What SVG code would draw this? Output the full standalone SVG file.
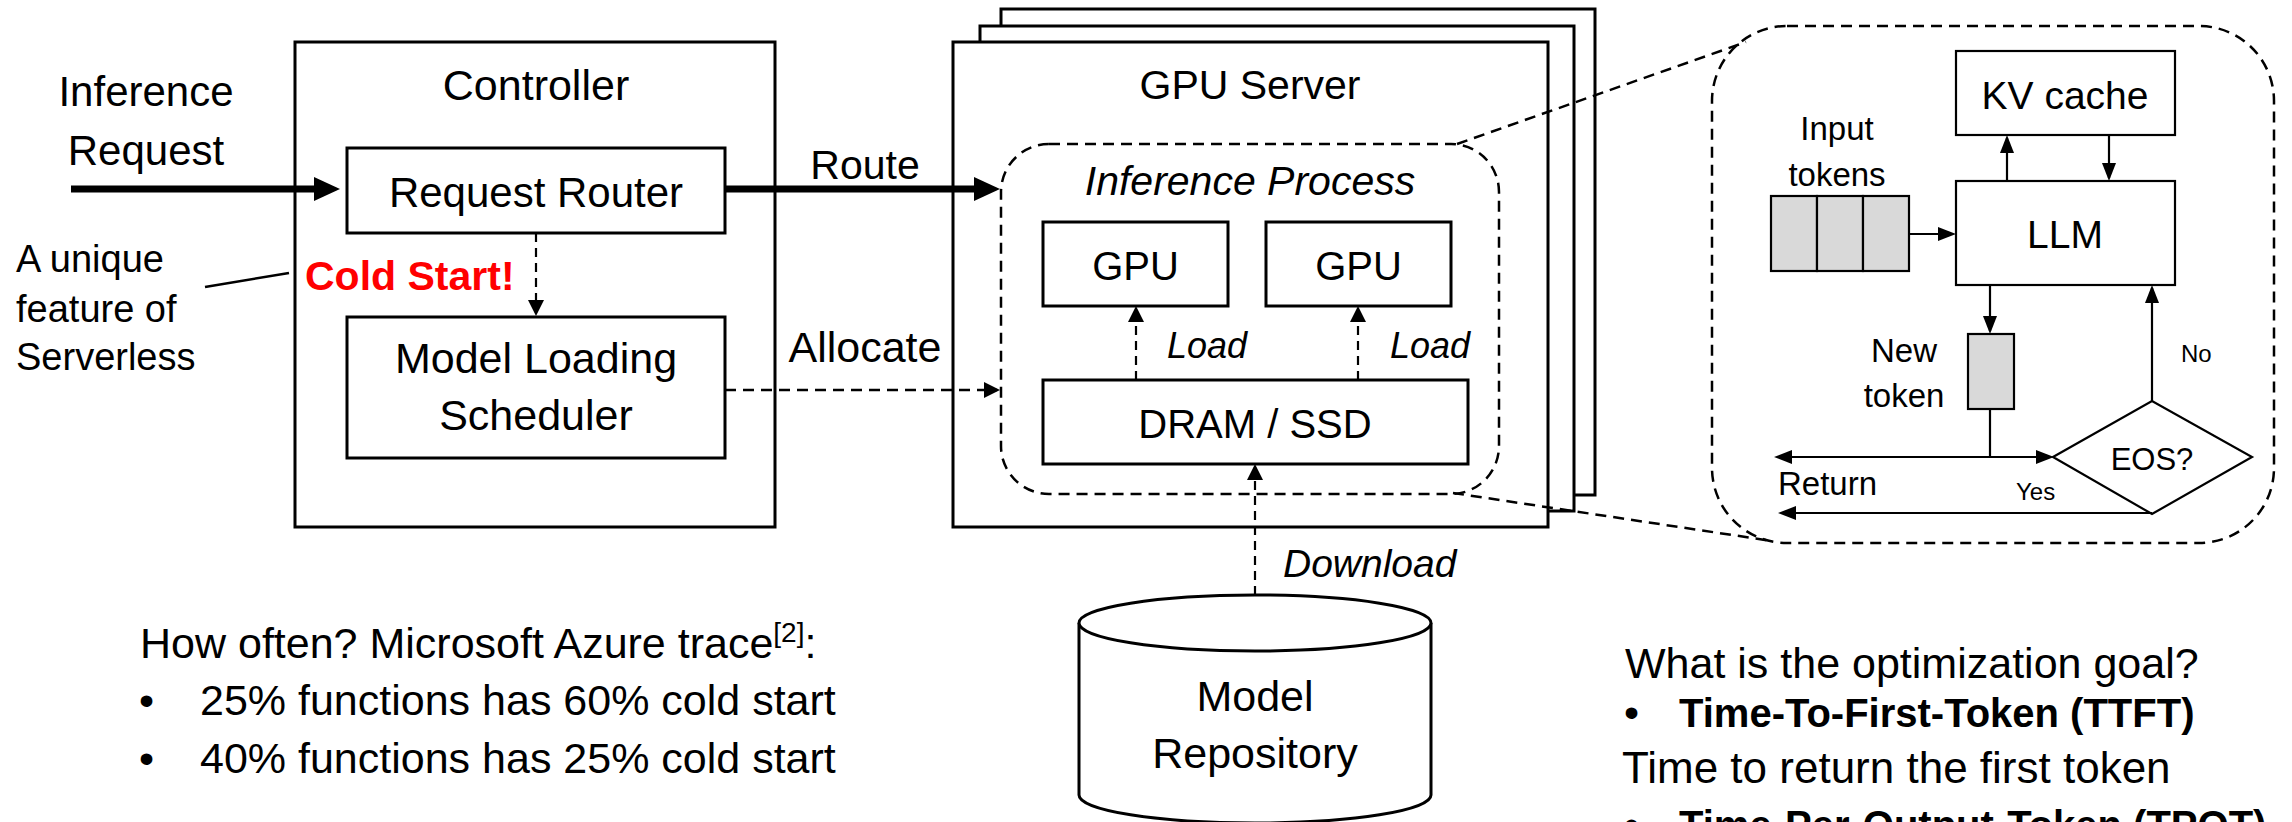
<svg xmlns="http://www.w3.org/2000/svg" width="2292" height="822" viewBox="0 0 2292 822">
  <defs>
    <style>
      text { font-family: "Liberation Sans", Arial, sans-serif; fill: #000; }
      .c { text-anchor: middle; }
      .it { font-style: italic; }
      .b { font-weight: bold; }
      .box { fill: #fff; stroke: #000; stroke-width: 3; }
      .thin { fill: #fff; stroke: #000; stroke-width: 2.2; }
      .tok { fill: #d9d9d9; stroke: #000; stroke-width: 2.2; }
      .dash { fill: none; stroke: #000; stroke-width: 2.5; stroke-dasharray: 11 7; }
      .thick { fill: none; stroke: #000; stroke-width: 7; }
      .dline { fill: none; stroke: #000; stroke-width: 2.2; stroke-dasharray: 9 6; }
      .solid { fill: none; stroke: #000; stroke-width: 2.2; }
    </style>
    <marker id="bigHead" markerUnits="userSpaceOnUse" viewBox="0 0 26 24" markerWidth="26" markerHeight="24" refX="16" refY="12" orient="auto">
      <path d="M0,0 L26,12 L0,24 z" fill="#000"/>
    </marker>
    <marker id="dashHead" markerUnits="userSpaceOnUse" viewBox="0 0 16 16" markerWidth="16" markerHeight="16" refX="13" refY="8" orient="auto">
      <path d="M0,0 L16,8 L0,16 z" fill="#000"/>
    </marker>
    <marker id="head" markerUnits="userSpaceOnUse" viewBox="0 0 18 14" markerWidth="18" markerHeight="14" refX="15" refY="7" orient="auto-start-reverse">
      <path d="M0,0 L18,7 L0,14 z" fill="#000"/>
    </marker>
  </defs>

  <!-- incoming request label -->
  <g id="request-label">
    <text class="c" x="146" y="106" font-size="42">Inference</text>
    <text class="c" x="146" y="165" font-size="42">Request</text>
  </g>

  <!-- controller -->
  <g id="controller">
    <rect class="box" x="295" y="42" width="480" height="485"/>
    <text class="c" x="536" y="100" font-size="43">Controller</text>
  </g>
  <g id="request-router">
    <rect class="box" x="347" y="148" width="378" height="85"/>
    <text class="c" x="536" y="207" font-size="42">Request Router</text>
  </g>
  <g id="model-loading-scheduler">
    <rect class="box" x="347" y="317" width="378" height="141"/>
    <text class="c" x="536" y="373" font-size="43">Model Loading</text>
    <text class="c" x="536" y="430" font-size="43">Scheduler</text>
  </g>
  <g id="cold-start">
    <text class="b" x="305" y="290" font-size="41" style="fill:#ff0000">Cold Start!</text>
  </g>
  <g id="serverless-note">
    <text x="16" y="272" font-size="38">A unique</text>
    <text x="16" y="322" font-size="38">feature of</text>
    <text x="16" y="370" font-size="38">Serverless</text>
    <line x1="205" y1="287" x2="289" y2="273" stroke="#000" stroke-width="2.5"/>
  </g>

  <!-- stacked GPU servers -->
  <g id="gpu-server">
    <rect class="box" x="1001" y="9" width="594" height="486"/>
    <rect class="box" x="980" y="26" width="594" height="485"/>
    <rect class="box" x="953" y="42" width="595" height="485"/>
    <text class="c" x="1250" y="99" font-size="41">GPU Server</text>
  </g>
  <g id="inference-process">
    <rect class="dash" x="1001" y="144" width="498" height="350" rx="48" ry="48"/>
    <text class="c it" x="1250" y="195" font-size="41">Inference Process</text>
  </g>
  <g id="gpu-1">
    <rect class="box" x="1043" y="222" width="185" height="84"/>
    <text class="c" x="1135.5" y="280" font-size="40">GPU</text>
  </g>
  <g id="gpu-2">
    <rect class="box" x="1266" y="222" width="185" height="84"/>
    <text class="c" x="1358.5" y="280" font-size="40">GPU</text>
  </g>
  <g id="dram-ssd">
    <rect class="box" x="1043" y="380" width="425" height="84"/>
    <text class="c" x="1255" y="438" font-size="40">DRAM / SSD</text>
  </g>

  <!-- model repository -->
  <g id="model-repository">
    <path d="M1079,623 L1079,795 A176,28 0 0 0 1431,795 L1431,623" fill="#fff" stroke="#000" stroke-width="3"/>
    <ellipse cx="1255" cy="623" rx="176" ry="28" fill="#fff" stroke="#000" stroke-width="3"/>
    <text class="c" x="1255" y="711" font-size="43">Model</text>
    <text class="c" x="1255" y="768" font-size="43">Repository</text>
  </g>

  <!-- token generation loop -->
  <g id="llm-detail">
    <rect class="dash" x="1712" y="26" width="562" height="517" rx="75" ry="75"/>
  </g>
  <g id="kv-cache">
    <rect class="thin" x="1956" y="51" width="219" height="84"/>
    <text class="c" x="2065" y="109" font-size="39">KV cache</text>
  </g>
  <g id="llm">
    <rect class="thin" x="1956" y="181" width="219" height="104"/>
    <text class="c" x="2065" y="248" font-size="39">LLM</text>
  </g>
  <g id="input-tokens">
    <rect class="tok" x="1771" y="196" width="46" height="75"/>
    <rect class="tok" x="1817" y="196" width="46" height="75"/>
    <rect class="tok" x="1863" y="196" width="46" height="75"/>
    <text class="c" x="1837" y="140" font-size="33">Input</text>
    <text class="c" x="1837" y="186" font-size="33">tokens</text>
  </g>
  <g id="new-token">
    <rect class="tok" x="1968" y="334" width="46" height="75"/>
    <text class="c" x="1904" y="362" font-size="33">New</text>
    <text class="c" x="1904" y="407" font-size="33">token</text>
  </g>
  <g id="eos-check">
    <polygon points="2053,457 2152,401 2252,457 2152,514" fill="#fff" stroke="#000" stroke-width="2.2"/>
    <text class="c" x="2152" y="470" font-size="31">EOS?</text>
  </g>

  <!-- connectors -->
  <g id="connectors">
    <line class="thick" x1="71" y1="189" x2="330" y2="189" marker-end="url(#bigHead)"/>
    <line class="thick" x1="725" y1="189" x2="990" y2="189" marker-end="url(#bigHead)"/>
    <line class="dline" x1="536" y1="233" x2="536" y2="313" marker-end="url(#dashHead)"/>
    <line class="dash" x1="725" y1="390" x2="997" y2="390" stroke-width="3" marker-end="url(#dashHead)"/>
    <line class="dline" x1="1136" y1="380" x2="1136" y2="309" marker-end="url(#dashHead)"/>
    <line class="dline" x1="1358" y1="380" x2="1358" y2="309" marker-end="url(#dashHead)"/>
    <line class="dline" x1="1255" y1="595" x2="1255" y2="467" marker-end="url(#dashHead)"/>
    <line class="dash" x1="1457" y1="144" x2="1746" y2="42"/>
    <line class="dash" x1="1453" y1="493" x2="1772" y2="541"/>
    <line class="solid" x1="1910" y1="234" x2="1953" y2="234" marker-end="url(#head)"/>
    <line class="solid" x1="2007" y1="181" x2="2007" y2="138" marker-end="url(#head)"/>
    <line class="solid" x1="2109" y1="135" x2="2109" y2="178" marker-end="url(#head)"/>
    <line class="solid" x1="1990" y1="285" x2="1990" y2="331" marker-end="url(#head)"/>
    <line class="solid" x1="1990" y1="409" x2="1990" y2="457"/>
    <line class="solid" x1="1777" y1="457" x2="2051" y2="457" marker-start="url(#head)" marker-end="url(#head)"/>
    <line class="solid" x1="2152" y1="401" x2="2152" y2="288" marker-end="url(#head)"/>
    <line class="solid" x1="2152" y1="513" x2="1781" y2="513" marker-end="url(#head)"/>
  </g>

  <!-- connector labels -->
  <g id="connector-labels">
    <text class="c" x="865" y="179" font-size="41">Route</text>
    <text class="c" x="865" y="362" font-size="43">Allocate</text>
    <text class="c it" x="1207" y="358" font-size="36">Load</text>
    <text class="c it" x="1430" y="358" font-size="36">Load</text>
    <text class="it" x="1283" y="577" font-size="39">Download</text>
    <text x="2181" y="362" font-size="24">No</text>
    <text x="2016" y="500" font-size="24">Yes</text>
    <text x="1778" y="495" font-size="33">Return</text>
  </g>

  <!-- notes -->
  <g id="cold-start-stats">
    <text x="140" y="658" font-size="43">How often? Microsoft Azure trace<tspan font-size="28" dy="-16">[2]</tspan><tspan dy="16">:</tspan></text>
    <text x="139" y="715" font-size="43">•</text>
    <text x="200" y="715" font-size="43">25% functions has 60% cold start</text>
    <text x="139" y="773" font-size="43">•</text>
    <text x="200" y="773" font-size="43">40% functions has 25% cold start</text>
  </g>
  <g id="optimization-goal">
    <text x="1625" y="678" font-size="43">What is the optimization goal?</text>
    <text x="1624" y="727" font-size="43">•</text>
    <text class="b" x="1679" y="727" font-size="40">Time-To-First-Token (TTFT)</text>
    <text x="1622" y="783" font-size="44">Time to return the first token</text>
    <text x="1624" y="839" font-size="43">•</text>
    <text class="b" x="1679" y="839" font-size="40">Time-Per-Output-Token (TPOT)</text>
  </g>
</svg>
